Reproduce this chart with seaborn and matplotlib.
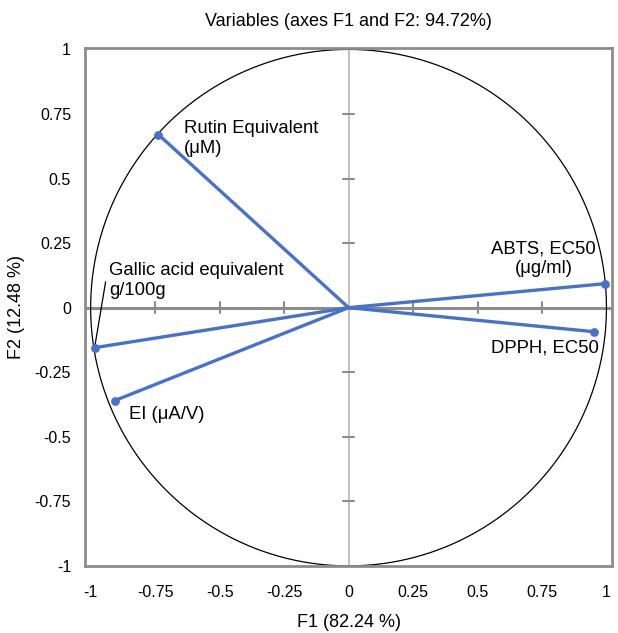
import numpy as np
import pandas as pd
import seaborn as sns
import matplotlib.pyplot as plt

# loadings on F1 / F2
variables = ['Rutin', 'ABTS', 'DPPH', 'Gallic', 'EI']
f1 = [-0.737, 0.996, 0.950, -0.985, -0.907]
f2 = [0.670, 0.093, -0.093, -0.155, -0.360]

labels = ['Rutin Equivalent\n(\u03bcM)', 'ABTS, EC50\n(\u03bcg/ml)', 'DPPH, EC50',
          'Gallic acid equivalent\ng/100g', 'EI (\u03bcA/V)']

ticks = [-1, -0.75, -0.5, -0.25, 0, 0.25, 0.5, 0.75, 1]
tick_labels = ['-1', '-0.75', '-0.5', '-0.25', '0', '0.25', '0.5', '0.75', '1']

sns.set_style('white')
plt.rcParams['font.family'] = ['Liberation Sans', 'DejaVu Sans']
plt.rcParams['text.color'] = 'black'
plt.rcParams['axes.labelcolor'] = 'black'
plt.rcParams['xtick.color'] = 'black'
plt.rcParams['ytick.color'] = 'black'

fig = plt.figure(figsize=(6.18, 6.33), dpi=100)
ax = fig.add_axes([0.1375, 0.106, 0.853, 0.818])

blue = '#4a72c4'
grey = '#8c8c8c'

# circle
t = np.linspace(0, 2 * np.pi, 400)
ax.plot(np.cos(t), np.sin(t), color='black', lw=0.9, zorder=2)

# zero axes
ax.axhline(0, color=grey, lw=2.2, zorder=1)
ax.axvline(0, color='#b5b5b5', lw=1.2, zorder=1)
for v in [-0.75, -0.5, -0.25, 0.25, 0.5, 0.75]:
    ax.plot([v, v], [-0.022, 0.022], color=grey, lw=1.5, zorder=1)
    ax.plot([-0.022, 0.022], [v, v], color=grey, lw=1.5, zorder=1)

# vectors from origin
rows = []
for name, x, y in zip(variables, f1, f2):
    rows.append({'var': name, 'x': 0.0, 'y': 0.0})
    rows.append({'var': name, 'x': x, 'y': y})
df = pd.DataFrame(rows)
sns.lineplot(data=df, x='x', y='y', units='var', estimator=None, sort=False,
             color=blue, lw=2.4, ax=ax, zorder=3)
pts = pd.DataFrame({'var': variables, 'x': f1, 'y': f2})
sns.scatterplot(data=pts, x='x', y='y', color=blue, s=40, edgecolor=blue,
                linewidth=0, ax=ax, zorder=4)

# labels
fs = 13.3
ax.text(-0.637, 0.655, labels[0], fontsize=fs, ha='left', va='center')
ax.text(0.757, 0.19, labels[1], fontsize=fs, ha='center', va='center')
ax.text(0.76, -0.155, labels[2], fontsize=fs, ha='center', va='center')
ax.text(-0.927, 0.105, labels[3], fontsize=fs, ha='left', va='center')
ax.text(-0.853, -0.415, labels[4], fontsize=fs, ha='left', va='center')
ax.plot([-0.942, -0.983], [0.10, -0.145], color='black', lw=0.9, zorder=3)

ax.set_xlim(-1.022, 1.022)
ax.set_ylim(-1.0, 1.005)
ax.set_xticks(ticks)
ax.set_xticklabels(tick_labels)
ax.set_yticks(ticks)
ax.set_yticklabels(tick_labels)
ax.tick_params(length=0, labelsize=11.5, pad=14)
ax.tick_params(axis='y', pad=10)
for s in ax.spines.values():
    s.set_color(grey)
    s.set_linewidth(2)

ax.set_xlabel('F1 (82.24 %)', fontsize=13, labelpad=10)
ax.set_ylabel('F2 (12.48 %)', fontsize=13, labelpad=7)
ax.set_title('Variables (axes F1 and F2: 94.72%)', fontsize=13, pad=16)

fig.savefig('out.png', dpi=100)
